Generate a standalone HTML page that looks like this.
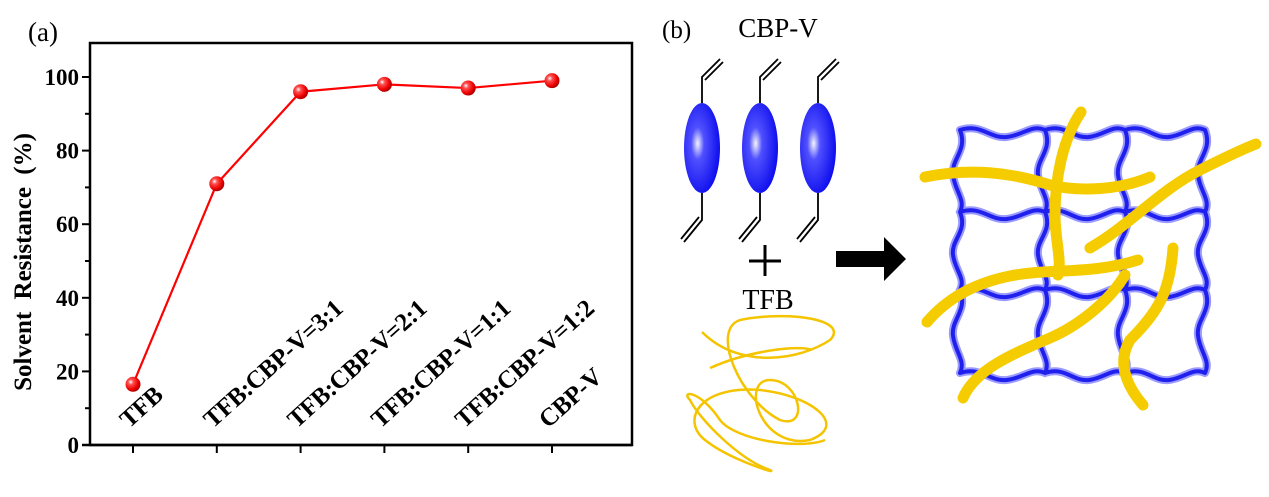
<!DOCTYPE html>
<html><head><meta charset="utf-8"><style>
html,body{margin:0;padding:0;background:#fff;}
svg{display:block;}
text{font-family:"Liberation Serif",serif;}
</style></head><body>
<svg id="fig" width="1269" height="497" viewBox="0 0 1269 497">
<defs>
<radialGradient id="ball" cx="0.35" cy="0.35" r="0.7">
<stop offset="0" stop-color="#fff"/><stop offset="0.25" stop-color="#ff5050"/><stop offset="0.7" stop-color="#ee0000"/><stop offset="1" stop-color="#a00000"/>
</radialGradient>
<radialGradient id="ell" cx="0.38" cy="0.45" r="0.6">
<stop offset="0" stop-color="#f4f4ff"/><stop offset="0.3" stop-color="#5050ff"/><stop offset="1" stop-color="#1010ee"/>
</radialGradient>
</defs>
<text x="28" y="41" font-size="27">(a)</text>
<g id="chart"></g>
<text x="662" y="38" font-size="25">(b)</text>
<text x="778" y="37" font-size="27" text-anchor="middle">CBP-V</text>
<g id="mols"></g>
<g stroke="#000" stroke-width="3"><line x1="749" y1="261" x2="781" y2="261"/><line x1="765" y1="245" x2="765" y2="276"/></g>
<text x="768" y="309" font-size="28" text-anchor="middle">TFB</text>
<g fill="none" stroke="#f5c400" stroke-width="2.5">
<path d="M702,332 C740,370 800,360 830,340 C850,320 790,310 740,320 C710,330 740,400 780,420 C810,430 800,380 770,380 C740,380 760,450 810,440 C850,425 810,395 760,390 C700,385 680,420 705,440 C730,460 780,475 770,470 C740,460 700,420 690,400 C680,390 700,390 720,420 C735,440 800,450 825,440"/>
<path d="M710,368 C750,350 800,345 812,350"/>
</g>
<polygon points="836,251 884,251 884,237 906,259 884,281 884,267 836,267" fill="#000"/>
<g id="net"></g>
</svg>
<script>
const categories=["TFB","TFB:CBP-V=3:1","TFB:CBP-V=2:1","TFB:CBP-V=1:1","TFB:CBP-V=1:2","CBP-V"];
const values=[16.5,71,96,98,97,99];
const yTicks=[0,20,40,60,80,100];
const NS="http://www.w3.org/2000/svg";
function mk(tag,attrs,parent){const e=document.createElementNS(NS,tag);for(const k in attrs)e.setAttribute(k,attrs[k]);parent.appendChild(e);return e;}
const g=document.getElementById('chart');
const L=90,R=632,T=43,B=445;
const y=v=>B-(v/100)*(B-77);
const x=i=>133+i*83.8;
const frame=mk('rect',{x:L,y:T,width:R-L,height:B-T,fill:'none',stroke:'#000','stroke-width':2.5},g);


mk('line',{x1:82,y1:B,x2:R,y2:B,stroke:'#000','stroke-width':2.5},g);
for(let v=0;v<=100;v+=10){const major=v%20===0;
 const t=mk('line',{x1:major?L-8:L-5,y1:y(v),x2:L,y2:y(v),stroke:'#000','stroke-width':2},g);
 
 }
yTicks.forEach(v=>{const t=mk('text',{x:L-11,y:y(v)+8,'font-size':23,'font-weight':'bold','text-anchor':'end'},g);t.textContent=v;
 
 });
const yt=mk('text',{x:0,y:0,'font-size':25,'font-weight':'bold','text-anchor':'middle','word-spacing':'6',transform:'translate(31,262) rotate(-90)'},g);
yt.textContent='Solvent  Resistance (%)';


categories.forEach((c,i)=>{
 const t=mk('line',{x1:x(i),y1:B,x2:x(i),y2:B+8,stroke:'#000','stroke-width':2},g);
 
 
 const lb=mk('text',{x:0,y:0,'font-size':25,'font-weight':'bold','letter-spacing':'-0.3',transform:`translate(${x(i)-4},${B-16}) rotate(-42)`},g);
 lb.textContent=c;
 
 
});
const line=mk('polyline',{points:values.map((v,i)=>x(i)+','+y(v)).join(' '),fill:'none',stroke:'#ff0000','stroke-width':2.2},g);


values.forEach((v,i)=>{const c=mk('circle',{cx:x(i),cy:y(v),r:7.5,fill:'url(#ball)'},g);
 
 });
// molecules
const m=document.getElementById('mols');
[702,760,818].forEach(cx=>{
 mk('path',{d:`M${cx},103 V77 L${cx+18},59 M${cx+3},80 L${cx+21},62 M${cx},193 V220 L${cx-18},242 M${cx-3},217 L${cx-21},239`,stroke:'#000','stroke-width':1.8,fill:'none'},m);
 const e=mk('ellipse',{cx:cx,cy:148,rx:18,ry:45,fill:'url(#ell)'},m);
 
 
});
// network
const n=document.getElementById('net');
const hx=[960,1045,1125,1205], hy=[130,212,290,373];
let d='';
hy.forEach(yy=>{d+=`M${hx[0]},${yy}`;for(let k=0;k<3;k++){const a=hx[k],b=hx[k+1],w=(b-a);d+=` C${a+w*0.25},${yy-7} ${a+w*0.35},${yy+9} ${a+w*0.55},${yy+7} S${a+w*0.85},${yy-6} ${b},${yy}`;}});
hx.forEach(xx=>{d+=`M${xx},${hy[0]}`;for(let k=0;k<3;k++){const a=hy[k],b=hy[k+1],h=(b-a);d+=` C${xx+8},${a+h*0.25} ${xx-9},${a+h*0.35} ${xx-7},${a+h*0.55} S${xx+6},${a+h*0.85} ${xx},${b}`;}});
mk('path',{d:d,fill:'none',stroke:'#9a9aff','stroke-width':8,'stroke-linecap':'round'},n);
mk('path',{d:d,fill:'none',stroke:'#2020ee','stroke-width':4,'stroke-linecap':'round'},n);
const tubes=["M925,177 C970,168 1010,172 1050,185 C1080,192 1120,190 1150,177",
"M1081,112 C1062,140 1055,180 1055,215 C1055,240 1062,260 1058,275",
"M1090,248 C1130,225 1160,190 1200,170 C1220,160 1240,150 1256,144",
"M927,322 C950,295 980,282 1010,276 C1050,268 1090,275 1138,260",
"M963,398 C975,370 1010,355 1050,338 C1080,325 1110,300 1125,275",
"M1173,248 C1170,290 1160,310 1130,340 C1115,365 1130,390 1143,405"];
tubes.forEach(p=>{const t=mk('path',{d:p,fill:'none',stroke:'#f5cc00','stroke-width':11,'stroke-linecap':'round'},n);
 
 });
</script>
</body></html>
